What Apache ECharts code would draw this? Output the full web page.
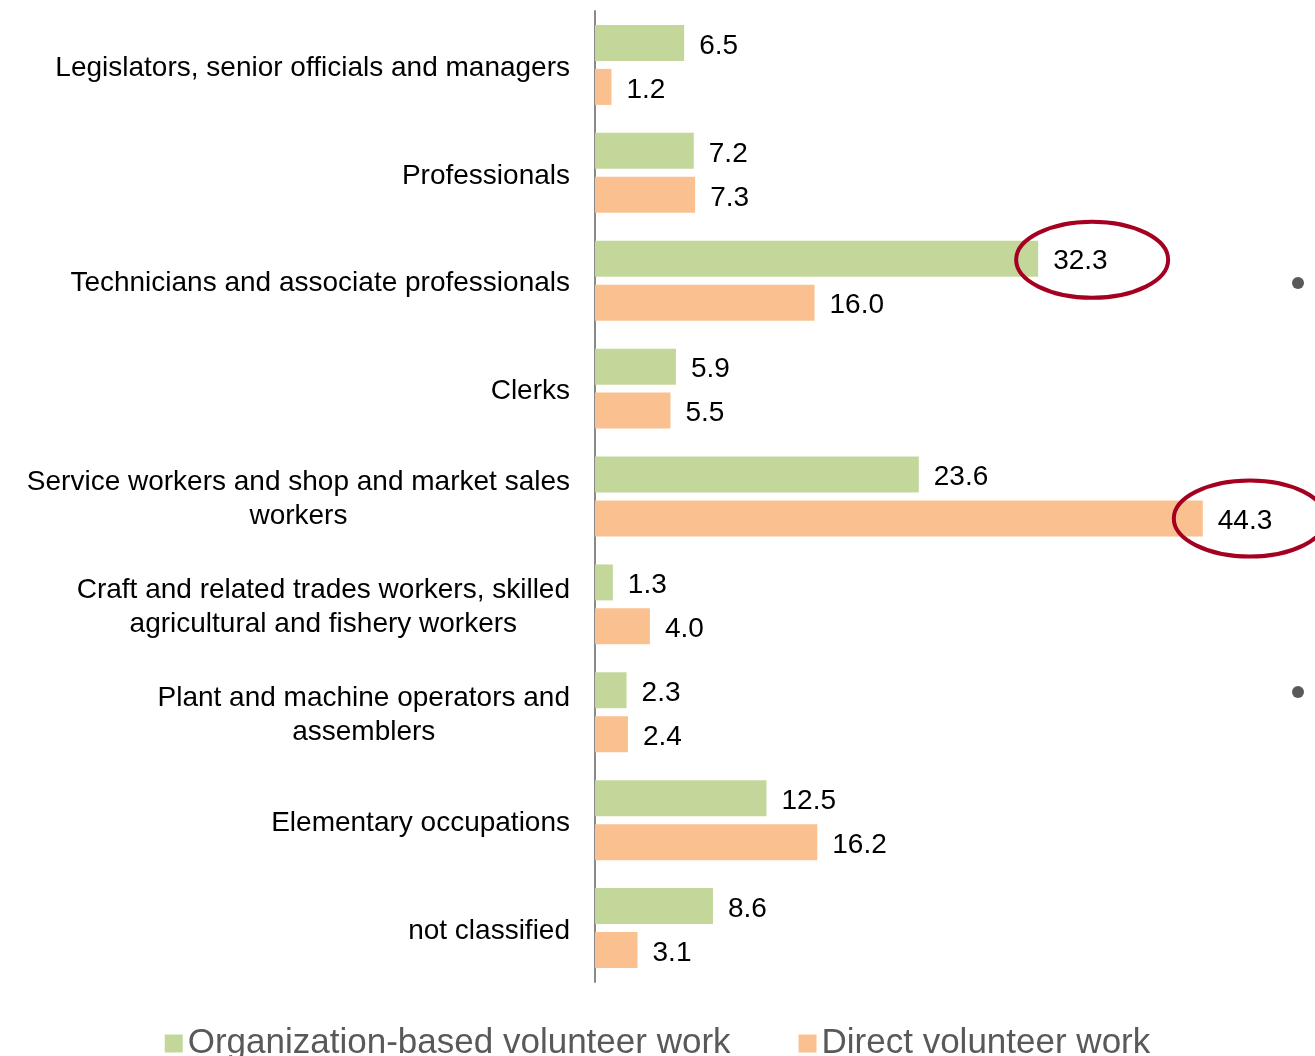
<!DOCTYPE html>
<html>
<head>
<meta charset="utf-8">
<script src="https://cdn.jsdelivr.net/npm/echarts@6/dist/echarts.min.js"></script>
<style>
  html, body { margin: 0; padding: 0; background: #fff; }
  #chart { width: 1315px; height: 1056px; }
</style>
</head>
<body>
<div id="chart"></div>
<script>
const categories = [
  'Legislators, senior officials and managers',
  'Professionals',
  'Technicians and associate professionals',
  'Clerks',
  'Service workers and shop and market sales\nworkers',
  'Craft and related trades workers, skilled\nagricultural and fishery workers',
  'Plant and machine operators and\nassemblers',
  'Elementary occupations',
  'not classified'
]
const orgValues = [6.5, 7.2, 32.3, 5.9, 23.6, 1.3, 2.3, 12.5, 8.6]
const directValues = [1.2, 7.3, 16.0, 5.5, 44.3, 4.0, 2.4, 16.2, 3.1]
const seriesNames = ['Organization-based volunteer work', 'Direct volunteer work']
// highlighted values (circled in red)
const highlights = [
  { series: 0, index: 2, dx: 54 },
  { series: 1, index: 4, dx: 47 }
]

const FONT = '"Liberation Sans", Arial, sans-serif'
const GREEN = '#C4D79B'
const ORANGE = '#FAC090'

const chart = echarts.init(document.getElementById('chart'))

const valueLabel = {
  show: true,
  position: 'right',
  distance: 15,
  offset: [0, 3],
  fontSize: 28,
  fontFamily: FONT,
  color: '#000',
  formatter: (p) => p.value.toFixed(1)
}

chart.setOption({
  animation: false,
  legend: {
    data: seriesNames,
    left: 'center',
    top: 1021,
    icon: 'rect',
    itemWidth: 18,
    itemHeight: 18,
    itemGap: 68,
    textStyle: { fontSize: 35, fontFamily: FONT, color: '#595959' }
  },
  grid: { left: 595, top: 11, width: 686, height: 971 },
  xAxis: { type: 'value', min: 0, max: 50, show: false },
  yAxis: {
    type: 'category',
    inverse: true,
    data: categories,
    axisLine: { lineStyle: { color: '#898989', width: 2 } },
    axisTick: { show: false },
    axisLabel: {
      margin: 25,
      padding: [6, 0, 0, 0],
      formatter: (v) => v.split('\n').map((s) => '{c|' + s + '}').join('\n'),
      rich: {
        c: { align: 'center', fontSize: 28, lineHeight: 34, fontFamily: FONT, color: '#000' }
      }
    }
  },
  series: [
    {
      name: seriesNames[0],
      type: 'bar',
      data: orgValues,
      barWidth: 36,
      barGap: '22%',
      itemStyle: { color: GREEN },
      label: valueLabel
    },
    {
      name: seriesNames[1],
      type: 'bar',
      data: directValues,
      barWidth: 36,
      barGap: '22%',
      itemStyle: { color: ORANGE },
      label: valueLabel
    }
  ]
})

const values = [orgValues, directValues]
const graphics = highlights.map((h) => {
  const pt = chart.convertToPixel({ gridIndex: 0 }, [values[h.series][h.index], h.index])
  const cy = pt[1] + (h.series === 0 ? -21 : 22)
  return {
    type: 'ellipse',
    shape: { cx: pt[0] + h.dx, cy: cy, rx: 76, ry: 38 },
    style: { fill: 'none', stroke: '#A50021', lineWidth: 4 },
    z: 100
  }
})
// bullet dots from the neighbouring slide text
graphics.push(
  { type: 'circle', shape: { cx: 1298, cy: 283, r: 6 }, style: { fill: '#595959' } },
  { type: 'circle', shape: { cx: 1298, cy: 692, r: 6 }, style: { fill: '#595959' } }
)
chart.setOption({ graphic: graphics })
</script>
</body>
</html>
